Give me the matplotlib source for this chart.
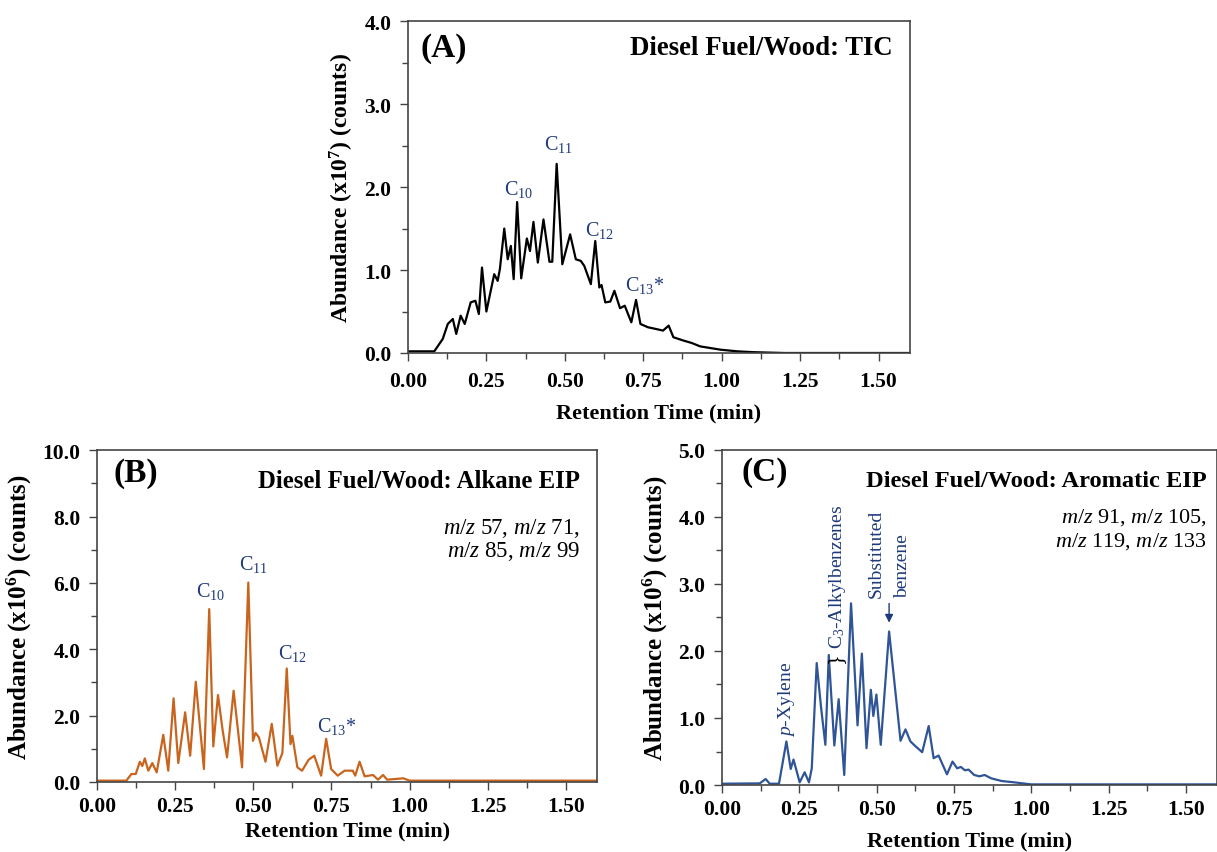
import numpy as np
import matplotlib
matplotlib.use("Agg")
import matplotlib.pyplot as plt
from matplotlib.ticker import MultipleLocator, FormatStrFormatter

plt.rcParams['font.family'] = ['Liberation Serif', 'DejaVu Serif']
plt.rcParams['mathtext.fontset'] = 'custom'
plt.rcParams['mathtext.rm'] = 'Liberation Serif'
plt.rcParams['mathtext.it'] = 'Liberation Serif:italic'
plt.rcParams['mathtext.bf'] = 'Liberation Serif:bold'

# (A) TIC trace (min, x10^7 counts)
tic_time = [0.0, 0.084, 0.111, 0.127, 0.143, 0.154, 0.168, 0.181, 0.200, 0.215, 0.226,
            0.236, 0.250, 0.275, 0.286, 0.293, 0.307, 0.318, 0.328, 0.337, 0.348, 0.361,
            0.379, 0.389, 0.400, 0.414, 0.432, 0.451, 0.460, 0.474, 0.492, 0.517, 0.535,
            0.551, 0.562, 0.583, 0.597, 0.610, 0.617, 0.629, 0.645, 0.658, 0.676, 0.691,
            0.712, 0.727, 0.741, 0.765, 0.790, 0.813, 0.831, 0.846, 0.878, 0.905, 0.931,
            0.996, 1.05, 1.10, 1.20, 1.62]
tic_abund = [0.02, 0.02, 0.17, 0.35, 0.41, 0.23, 0.45, 0.35, 0.61, 0.63, 0.47,
             1.03, 0.50, 0.95, 0.87, 1.01, 1.50, 1.13, 1.29, 0.89, 1.82, 0.90,
             1.38, 1.23, 1.58, 1.09, 1.61, 1.10, 1.10, 2.28, 1.07, 1.43, 1.13,
             1.11, 1.05, 0.83, 1.35, 0.79, 0.82, 0.61, 0.62, 0.75, 0.54, 0.57,
             0.37, 0.64, 0.35, 0.31, 0.29, 0.27, 0.33, 0.19, 0.15, 0.12, 0.08,
             0.04, 0.02, 0.01, 0.0, 0.0]

# (B) alkane EIP (x10^6 counts)
alk_time = [0.0, 0.094, 0.110, 0.124, 0.137, 0.145, 0.153, 0.164, 0.177, 0.191, 0.212,
            0.228, 0.245, 0.260, 0.282, 0.298, 0.316, 0.342, 0.359, 0.372, 0.387, 0.402,
            0.416, 0.437, 0.464, 0.484, 0.499, 0.507, 0.518, 0.539, 0.559, 0.577, 0.593,
            0.607, 0.619, 0.625, 0.641, 0.656, 0.677, 0.695, 0.717, 0.733, 0.749, 0.770,
            0.792, 0.818, 0.826, 0.840, 0.856, 0.883, 0.899, 0.915, 0.928, 0.955, 0.980,
            1.000, 1.62]
alk_abund = [0.04, 0.04, 0.24, 0.24, 0.61, 0.48, 0.71, 0.34, 0.57, 0.29, 1.42,
             0.34, 2.52, 0.57, 2.10, 0.79, 3.02, 0.39, 5.21, 1.07, 2.62, 1.55,
             0.74, 2.75, 0.44, 6.01, 1.24, 1.48, 1.34, 0.61, 1.75, 0.49, 0.87,
             3.42, 1.14, 1.39, 0.44, 0.34, 0.67, 0.79, 0.19, 1.30, 0.39, 0.19,
             0.34, 0.34, 0.19, 0.61, 0.17, 0.21, 0.07, 0.21, 0.07, 0.09, 0.11,
             0.04, 0.04]

# (C) aromatic EIP (x10^6 counts)
aro_time = [0.0, 0.122, 0.141, 0.154, 0.184, 0.208, 0.222, 0.231, 0.251, 0.267, 0.281,
            0.290, 0.306, 0.320, 0.334, 0.345, 0.363, 0.377, 0.395, 0.417, 0.438, 0.452,
            0.467, 0.481, 0.489, 0.499, 0.513, 0.540, 0.577, 0.593, 0.609, 0.625, 0.647,
            0.668, 0.684, 0.700, 0.727, 0.745, 0.760, 0.772, 0.785, 0.797, 0.815, 0.832,
            0.849, 0.870, 0.904, 0.945, 0.999, 1.62]
aro_abund = [0.02, 0.025, 0.09, 0.02, 0.02, 0.65, 0.24, 0.38, 0.04, 0.19, 0.04,
             0.25, 1.82, 1.16, 0.60, 1.94, 0.59, 1.28, 0.15, 2.71, 0.89, 1.96,
             0.55, 1.42, 1.03, 1.35, 0.60, 2.29, 0.66, 0.83, 0.65, 0.58, 0.49,
             0.88, 0.40, 0.44, 0.16, 0.35, 0.25, 0.27, 0.22, 0.23, 0.15, 0.13,
             0.15, 0.10, 0.06, 0.04, 0.01, 0.01]

# peak labels: (text, time, abundance)
tic_labels = [("C$_{10}$", 0.352, 1.98), ("C$_{11}$", 0.481, 2.52),
              ("C$_{12}$", 0.609, 1.49), ("C$_{13}$*", 0.756, 0.83)]
alk_labels = [("C$_{10}$", 0.363, 5.76), ("C$_{11}$", 0.499, 6.57),
              ("C$_{12}$", 0.625, 3.91), ("C$_{13}$*", 0.765, 1.70)]

navy = '#1f3a7a'
orange = '#c8641e'
blue = '#2f5597'


def style_axes(ax, ymax, ymaj, ymin, ylabel, ylsize, xpad, xlpad):
    ax.set_xlim(0, 1.6)
    ax.set_ylim(0, ymax)
    ax.xaxis.set_major_locator(MultipleLocator(0.25))
    ax.xaxis.set_minor_locator(MultipleLocator(0.125))
    ax.yaxis.set_major_locator(MultipleLocator(ymaj))
    ax.yaxis.set_minor_locator(MultipleLocator(ymin))
    ax.xaxis.set_major_formatter(FormatStrFormatter('%.2f'))
    ax.yaxis.set_major_formatter(FormatStrFormatter('%.1f'))
    ax.tick_params(which='major', direction='out', length=6, width=1, labelsize=15.5, color='#444444')
    ax.tick_params(which='minor', direction='out', length=4, width=1, color='#444444')
    ax.tick_params(axis='y', which='major', pad=6)
    ax.tick_params(axis='x', which='major', pad=xpad)
    for lab in ax.get_xticklabels() + ax.get_yticklabels():
        lab.set_fontweight('bold')
    for sp in ax.spines.values():
        sp.set_color('#444444')
        sp.set_linewidth(1.2)
    ax.set_xlabel("Retention Time (min)", fontsize=16, fontweight='bold', labelpad=xlpad)
    ax.set_ylabel(ylabel, fontsize=ylsize, fontweight='bold', labelpad=6)


fig = plt.figure(figsize=(12.17, 8.53), dpi=100)

# (A)
axA = fig.add_axes([0.3352, 0.585, 0.4125, 0.389])
axA.plot(tic_time, tic_abund, color='black', lw=1.6, solid_joinstyle='round')
style_axes(axA, 4.0, 1.0, 0.5, r"Abundance (x10$^{\mathbf{7}}$) (counts)", 17, 7, 8)
axA.text(0.026, 0.92, "(A)", transform=axA.transAxes, fontsize=24, fontweight='bold', va='center')
axA.text(0.966, 0.92, "Diesel Fuel/Wood: TIC", transform=axA.transAxes, fontsize=19.3,
         fontweight='bold', ha='right', va='center')
for txt, t, v in tic_labels:
    axA.text(t, v, txt, color=navy, fontsize=14.5, ha='center', va='center')

# (B)
axB = fig.add_axes([0.0797, 0.0821, 0.411, 0.389])
axB.plot(alk_time, alk_abund, color=orange, lw=1.6, solid_joinstyle='round')
style_axes(axB, 10.0, 2.0, 1.0, r"Abundance (x10$^{\mathbf{6}}$) (counts)", 18, 4, 3)
axB.text(0.032, 0.934, "(B)", transform=axB.transAxes, fontsize=24, fontweight='bold', va='center')
axB.text(0.966, 0.908, "Diesel Fuel/Wood: Alkane EIP", transform=axB.transAxes, fontsize=17.8,
         fontweight='bold', ha='right', va='center')
axB.text(0.966, 0.768, "$m/z$ 57, $m/z$ 71,", transform=axB.transAxes, fontsize=16.5,
         ha='right', va='center')
axB.text(0.966, 0.698, "$m/z$ 85, $m/z$ 99", transform=axB.transAxes, fontsize=16.5,
         ha='right', va='center')
for txt, t, v in alk_labels:
    axB.text(t, v, txt, color=navy, fontsize=14.5, ha='center', va='center')

# (C)
axC = fig.add_axes([0.5933, 0.0785, 0.4067, 0.393])
axC.plot(aro_time, aro_abund, color=blue, lw=1.6, solid_joinstyle='round')
style_axes(axC, 5.0, 1.0, 0.5, r"Abundance (x10$^{\mathbf{6}}$) (counts)", 18, 4, 8)
axC.text(0.04, 0.934, "(C)", transform=axC.transAxes, fontsize=24, fontweight='bold', va='center')
axC.text(0.98, 0.908, "Diesel Fuel/Wood: Aromatic EIP", transform=axC.transAxes, fontsize=17.6,
         fontweight='bold', ha='right', va='center')
axC.text(0.98, 0.80, "$m/z$ 91, $m/z$ 105,", transform=axC.transAxes, fontsize=16,
         ha='right', va='center')
axC.text(0.98, 0.73, "$m/z$ 119, $m/z$ 133", transform=axC.transAxes, fontsize=16,
         ha='right', va='center')
axC.text(0.209, 0.73, "$p$-Xylene", color=navy, fontsize=14, rotation=90,
         ha='center', va='bottom')
axC.text(0.366, 1.84, "}", color='black', fontsize=16, rotation=90, ha='center', va='bottom')
axC.text(0.374, 2.04, "C$_3$-Alkylbenzenes", color=navy, fontsize=14, rotation=90,
         ha='center', va='bottom')
axC.text(0.50, 2.81, "Substituted", color=navy, fontsize=14, rotation=90, ha='center', va='bottom')
axC.text(0.582, 2.81, "benzene", color=navy, fontsize=14, rotation=90, ha='center', va='bottom')
axC.annotate("", xy=(0.54, 2.38), xytext=(0.54, 2.75),
             arrowprops=dict(arrowstyle='-|>', color=navy, lw=1.0, mutation_scale=12))

fig.savefig("out.png", dpi=100)
